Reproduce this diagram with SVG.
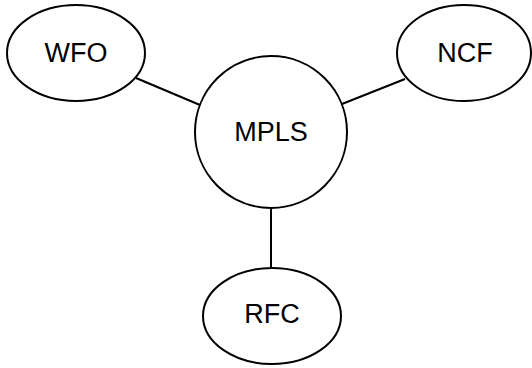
<svg xmlns="http://www.w3.org/2000/svg" width="532" height="368" viewBox="0 0 532 368">
  <style>
    .shape { fill: #ffffff; stroke: #000000; stroke-width: 2; }
    .edge { stroke: #000000; stroke-width: 2; fill: none; }
    .label { font-family: "Liberation Sans", Arial, sans-serif; font-size: 27px; fill: #000000; text-anchor: middle; dominant-baseline: central; }
  </style>
  <rect width="532" height="368" fill="#ffffff"/>
  <g id="connectors">
    <line class="edge" x1="136" y1="78" x2="200" y2="105"/>
    <line class="edge" x1="405" y1="79" x2="342" y2="104"/>
    <line class="edge" x1="271" y1="208" x2="271" y2="268"/>
  </g>
  <g id="node-wfo">
    <ellipse class="shape" cx="76" cy="53" rx="69" ry="48"/>
    <text class="label" x="76" y="53">WFO</text>
  </g>
  <g id="node-ncf">
    <ellipse class="shape" cx="464" cy="53" rx="67" ry="48"/>
    <text class="label" x="465" y="53">NCF</text>
  </g>
  <g id="node-mpls">
    <circle class="shape" cx="271" cy="132" r="76"/>
    <text class="label" x="271" y="132">MPLS</text>
  </g>
  <g id="node-rfc">
    <ellipse class="shape" cx="272" cy="316" rx="69" ry="48"/>
    <text class="label" x="272" y="314">RFC</text>
  </g>
</svg>
